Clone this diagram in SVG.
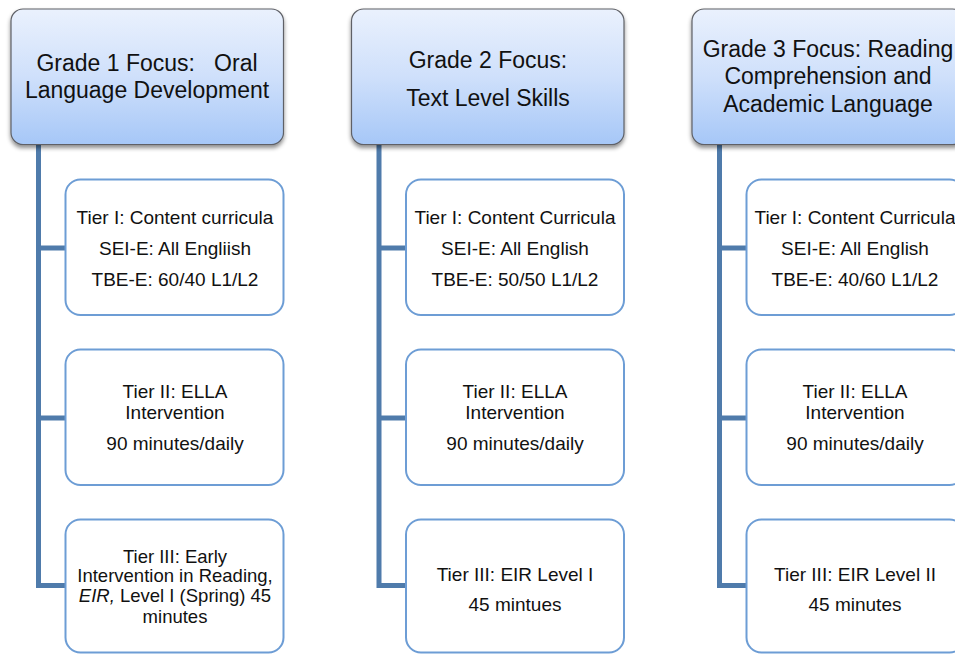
<svg xmlns="http://www.w3.org/2000/svg" width="955" height="654" viewBox="0 0 955 654">
<defs>
<linearGradient id="hg" x1="0" y1="0" x2="0" y2="1">
<stop offset="0" stop-color="#eaf1fd"/>
<stop offset="0.5" stop-color="#cfe0fb"/>
<stop offset="1" stop-color="#a6c7f7"/>
</linearGradient>
<filter id="sh" x="-10%" y="-10%" width="120%" height="130%">
<feDropShadow dx="0" dy="3" stdDeviation="2.2" flood-color="#000" flood-opacity="0.45"/>
</filter>
</defs>
<style>
.hdr{fill:url(#hg);stroke:#5e6066;stroke-width:1.2;filter:url(#sh)}
.box{fill:#ffffff;stroke:#6d9dd5;stroke-width:2}
.conn{fill:none;stroke:#4f7bab;stroke-width:5;stroke-linejoin:miter}
text{font-family:"Liberation Sans",Arial,sans-serif;fill:#111;text-anchor:middle;white-space:pre}
.h{font-size:23px}
.b{font-size:19px}
.b3{font-size:18.5px}
</style>
<rect width="955" height="654" fill="#fff"/>
<g id="connectors">
<path class="conn" d="M38.5 145 V585.5 H66"/>
<path class="conn" d="M38.5 248 H66"/>
<path class="conn" d="M38.5 418 H66"/>
<path class="conn" d="M379 145 V585.5 H406.5"/>
<path class="conn" d="M379 248 H406.5"/>
<path class="conn" d="M379 418 H406.5"/>
<path class="conn" d="M719.5 145 V585.5 H747"/>
<path class="conn" d="M719.5 248 H747"/>
<path class="conn" d="M719.5 418 H747"/>
</g>
<g id="grade1">
<rect class="hdr" x="11" y="9" width="272.5" height="135.5" rx="12"/>
<text class="h" x="147" y="71" xml:space="preserve">Grade 1 Focus:   Oral</text>
<text class="h" x="147" y="98">Language Development</text>
</g>
<g id="g1-tier1">
<rect class="box" x="65.5" y="179.5" width="218" height="135.5" rx="15"/>
<text class="b" x="175" y="224">Tier I: Content curricula</text>
<text class="b" x="175" y="255">SEI-E: All Engliish</text>
<text class="b" x="175" y="286">TBE-E: 60/40 L1/L2</text>
</g>
<g id="g1-tier2">
<rect class="box" x="65.5" y="349.5" width="218" height="135.5" rx="15"/>
<text class="b" x="175" y="398">Tier II: ELLA</text>
<text class="b" x="175" y="419">Intervention</text>
<text class="b" x="175" y="450">90 minutes/daily</text>
</g>
<g id="g1-tier3">
<rect class="box" x="65.5" y="519.5" width="218" height="133" rx="15"/>
<text class="b3" x="175" y="563">Tier III: Early</text>
<text class="b3" x="175" y="582">Intervention in Reading,</text>
<text class="b3" x="175" y="602"><tspan font-style="italic">EIR,</tspan> Level I (Spring) 45</text>
<text class="b3" x="175" y="623">minutes</text>
</g>
<g id="grade2">
<rect class="hdr" x="351.5" y="9" width="272.5" height="135.5" rx="12"/>
<text class="h" x="488" y="68">Grade 2 Focus:</text>
<text class="h" x="488" y="106">Text Level Skills</text>
</g>
<g id="g2-tier1">
<rect class="box" x="406" y="179.5" width="218" height="135.5" rx="15"/>
<text class="b" x="515" y="224">Tier I: Content Curricula</text>
<text class="b" x="515" y="255">SEI-E: All English</text>
<text class="b" x="515" y="286">TBE-E: 50/50 L1/L2</text>
</g>
<g id="g2-tier2">
<rect class="box" x="406" y="349.5" width="218" height="135.5" rx="15"/>
<text class="b" x="515" y="398">Tier II: ELLA</text>
<text class="b" x="515" y="419">Intervention</text>
<text class="b" x="515" y="450">90 minutes/daily</text>
</g>
<g id="g2-tier3">
<rect class="box" x="406" y="519.5" width="218" height="133" rx="15"/>
<text class="b" x="515" y="581">Tier III: EIR Level I</text>
<text class="b" x="515" y="611">45 mintues</text>
</g>
<g id="grade3">
<rect class="hdr" x="692" y="9" width="272.5" height="135.5" rx="12"/>
<text class="h" x="828" y="57">Grade 3 Focus: Reading</text>
<text class="h" x="828" y="84">Comprehension and</text>
<text class="h" x="828" y="112">Academic Language</text>
</g>
<g id="g3-tier1">
<rect class="box" x="746.5" y="179.5" width="218" height="135.5" rx="15"/>
<text class="b" x="855" y="224">Tier I: Content Curricula</text>
<text class="b" x="855" y="255">SEI-E: All English</text>
<text class="b" x="855" y="286">TBE-E: 40/60 L1/L2</text>
</g>
<g id="g3-tier2">
<rect class="box" x="746.5" y="349.5" width="218" height="135.5" rx="15"/>
<text class="b" x="855" y="398">Tier II: ELLA</text>
<text class="b" x="855" y="419">Intervention</text>
<text class="b" x="855" y="450">90 minutes/daily</text>
</g>
<g id="g3-tier3">
<rect class="box" x="746.5" y="519.5" width="218" height="133" rx="15"/>
<text class="b" x="855" y="581">Tier III: EIR Level II</text>
<text class="b" x="855" y="611">45 minutes</text>
</g>
</svg>
